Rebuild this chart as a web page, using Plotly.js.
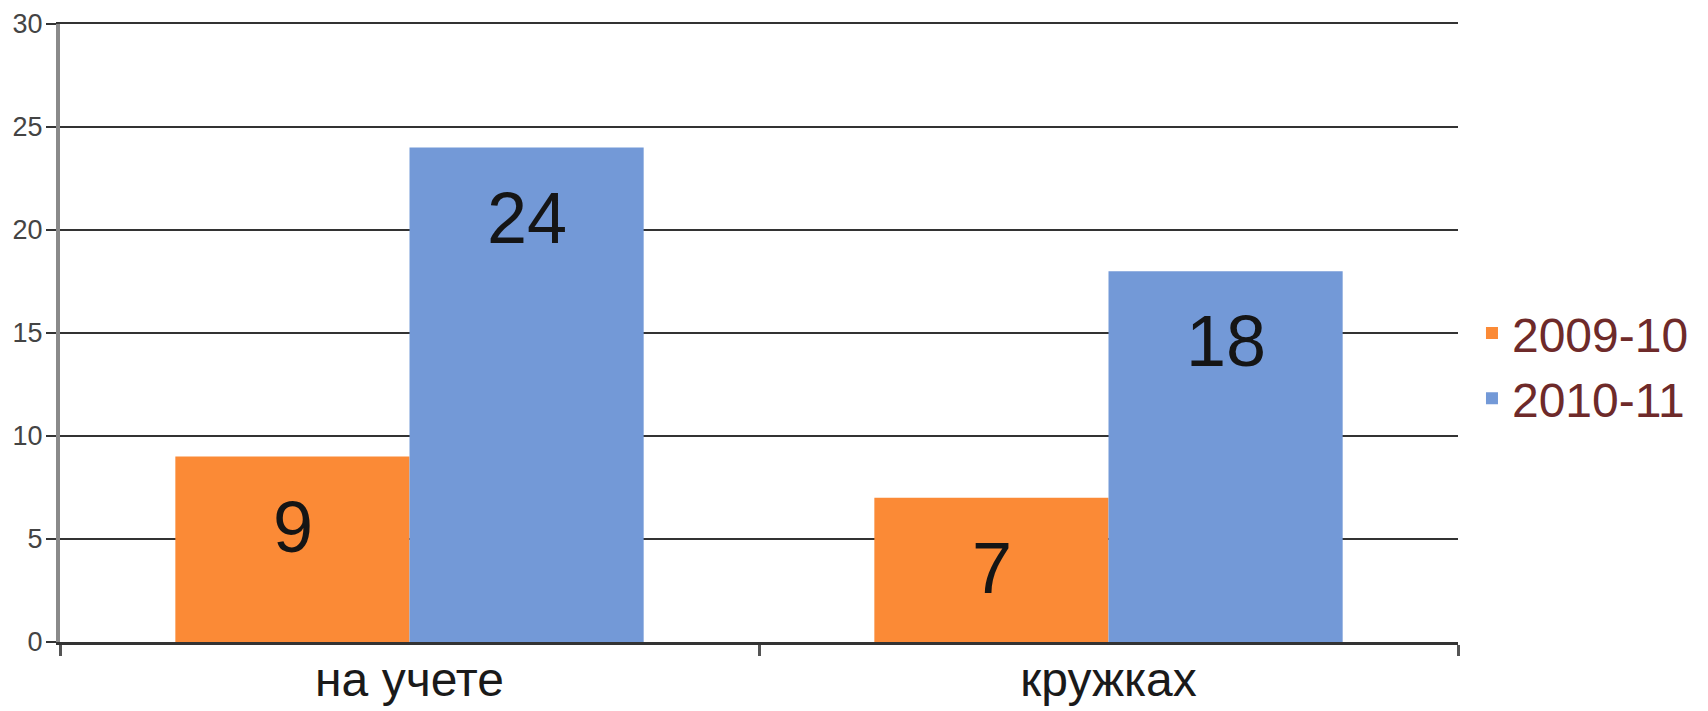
<!DOCTYPE html>
<html>
<head>
<meta charset="utf-8">
<script src="https://cdn.plot.ly/plotly-3.0.1.min.js"></script>
<style>html,body{margin:0;padding:0;background:#fff}#chart{width:1708px;height:711px}</style>
</head>
<body>
<div id="chart"></div>
<script>
const categories = ['на учете', 'кружках'];
const seriesNames = ['2009-10', '2010-11'];
const values2009 = [9, 7];
const values2010 = [24, 18];
const yTicks = [0, 5, 10, 15, 20, 25, 30];

const colors = ['#FB8A36', '#7399D7'];
const FONT = 'Liberation Sans, Arial, sans-serif';

const traces = [
  {type: 'bar', name: seriesNames[0], x: categories, y: values2009,
   marker: {color: colors[0], line: {width: 0}}, hoverinfo: 'none'},
  {type: 'bar', name: seriesNames[1], x: categories, y: values2010,
   marker: {color: colors[1], line: {width: 0}}, hoverinfo: 'none'}
];

const annotations = [];
[values2009, values2010].forEach((vals, si) => {
  vals.forEach((v, ci) => {
    annotations.push({
      x: categories[ci], y: v, xref: 'x', yref: 'y',
      text: String(v), showarrow: false,
      xshift: si === 0 ? -117 : 117, yshift: -70,
      yanchor: 'middle',
      font: {family: FONT, size: 72, color: '#151515'}
    });
  });
});

const layout = {
  width: 1708, height: 711,
  margin: {l: 60, r: 250, t: 24, b: 69},
  paper_bgcolor: '#ffffff', plot_bgcolor: '#ffffff',
  barmode: 'group', bargap: 0.33, bargroupgap: 0,
  showlegend: true,
  legend: {x: 1.01, xanchor: 'left', y: 0.447, yanchor: 'middle',
           font: {family: FONT, size: 48, color: '#6E2A2A'},
           bgcolor: 'rgba(0,0,0,0)', tracegroupgap: 0},
  xaxis: {type: 'category', tickson: 'boundaries', ticks: 'outside', ticklen: 11,
          tickwidth: 3, tickcolor: '#555', showgrid: false, showline: true,
          mirror: true,
          linecolor: '#333', linewidth: 2.5, ticklabelstandoff: -6,
          tickfont: {family: FONT, size: 48, color: '#1a1a1a'}},
  yaxis: {range: [0, 30], tickvals: yTicks, ticktext: yTicks.map(String),
          ticks: 'outside', ticklen: 10, tickwidth: 2.5, tickcolor: '#333',
          showgrid: true, gridcolor: '#333', gridwidth: 2.5,
          zeroline: false, showline: true, linecolor: '#8a8a8a', linewidth: 4,
          ticklabelstandoff: -2,
          tickfont: {family: FONT, size: 27, color: '#444'}},
  annotations: annotations
};

Plotly.newPlot('chart', traces, layout, {displayModeBar: false, staticPlot: true});
</script>
</body>
</html>
